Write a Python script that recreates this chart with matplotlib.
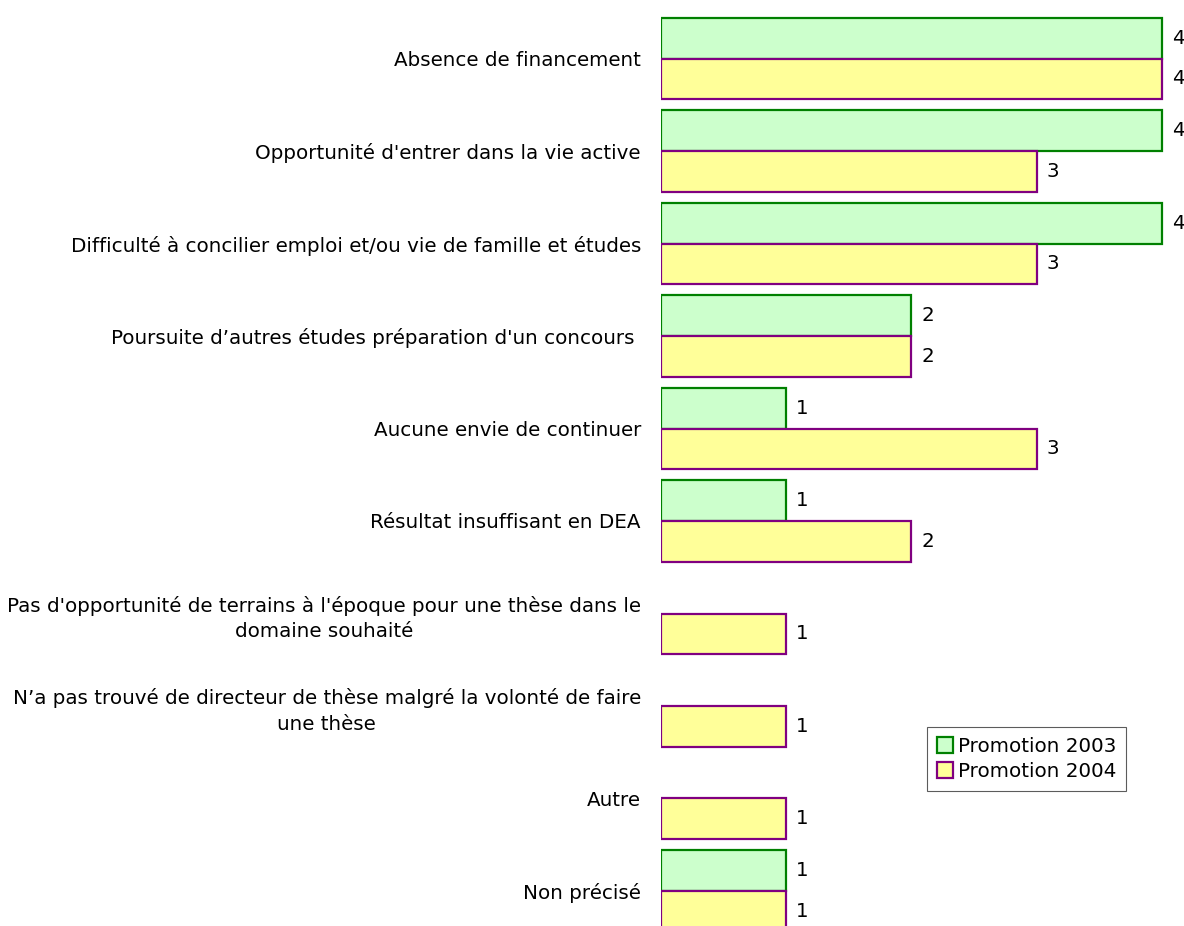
import matplotlib
matplotlib.use("Agg")
import matplotlib.pyplot as plt
import numpy as np
from matplotlib.patches import Patch

categories = [
    "Absence de financement",
    "Opportunité d'entrer dans la vie active",
    "Difficulté à concilier emploi et/ou vie de famille et études",
    "Poursuite d’autres études préparation d'un concours ",
    "Aucune envie de continuer",
    "Résultat insuffisant en DEA",
    "Pas d'opportunité de terrains à l'époque pour une thèse dans le\ndomaine souhaité",
    "N’a pas trouvé de directeur de thèse malgré la volonté de faire\nune thèse",
    "Autre",
    "Non précisé",
]
promo_2003 = [4, 4, 4, 2, 1, 1, 0, 0, 0, 1]
promo_2004 = [4, 3, 3, 2, 3, 2, 1, 1, 1, 1]
series_names = ["Promotion 2003", "Promotion 2004"]

fills = ["#CCFFCC", "#FFFF99"]
edges = ["#008000", "#800080"]

plt.rcParams["font.family"] = ["DejaVu Sans"]
FS = 14.3

fig = plt.figure(figsize=(11.84, 9.26), dpi=100)
W, H = 1184, 926
x0 = 661
ax = fig.add_axes([x0 / W, 0, 1 - x0 / W, 1])

pitch = 92.5
top_center = 58.5
ymin = -top_center / pitch
ymax = (H - top_center) / pitch
px_per_unit = (1162 - x0) / 4
ax.set_xlim(0, (W - x0) / px_per_unit)
ax.set_ylim(ymax, ymin)

bh = 0.438
idx = np.arange(len(categories))
for k, vals in enumerate([promo_2003, promo_2004]):
    vals = np.array(vals)
    ypos = idx - bh / 2 if k == 0 else idx + bh / 2
    mask = vals > 0
    ax.barh(ypos[mask], vals[mask], height=bh, color=fills[k],
            edgecolor=edges[k], linewidth=1.6, align="center")
    for y, v in zip(ypos[mask], vals[mask]):
        ax.text(v + 10 / px_per_unit, y, str(v), va="center", ha="left",
                fontsize=FS, color="black")

ax.set_yticks(idx)
ax.set_yticklabels(categories, fontsize=FS, multialignment="center",
                   linespacing=1.4)
ax.tick_params(axis="y", length=0, pad=14.4)
ax.set_xticks([])
for s in ax.spines.values():
    s.set_visible(False)

handles = [Patch(facecolor=fills[k], edgecolor=edges[k], linewidth=1.6,
                 label=series_names[k]) for k in range(2)]
leg = fig.legend(handles=handles, loc="upper left",
                 bbox_to_anchor=(927 / W, 1 - 727 / H), fontsize=FS,
                 frameon=True, fancybox=False, edgecolor="#333333",
                 handlelength=0.8, handleheight=0.8, handletextpad=0.25,
                 borderpad=0.5, labelspacing=0.3, borderaxespad=0)
leg.get_frame().set_linewidth(0.8)

fig.savefig("out.png", dpi=100)
